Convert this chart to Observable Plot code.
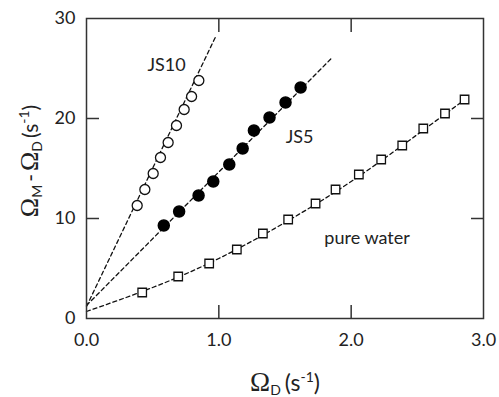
<!DOCTYPE html>
<html><head><meta charset="utf-8">
<script src="https://cdn.jsdelivr.net/npm/d3@7"></script>
<script src="https://cdn.jsdelivr.net/npm/@observablehq/plot@0.6"></script>
<style>body{margin:0;background:#fff;} svg{display:block;}</style>
</head><body><div id="chart"></div>
<script>
// JS10 (open circles)
const js10X = [0.383, 0.441, 0.504, 0.559, 0.617, 0.680, 0.738, 0.794, 0.849];
const js10Y = [11.3, 12.9, 14.5, 16.1, 17.6, 19.3, 20.9, 22.2, 23.8];
// JS5 (filled circles)
const js5X = [0.584, 0.700, 0.847, 0.958, 1.079, 1.180, 1.265, 1.383, 1.504, 1.618];
const js5Y = [9.3, 10.7, 12.3, 13.7, 15.4, 17.0, 18.8, 20.1, 21.6, 23.1];
// pure water (open squares)
const waterX = [0.421, 0.693, 0.927, 1.136, 1.333, 1.524, 1.731, 1.882, 2.058, 2.227, 2.386, 2.545, 2.709, 2.857];
const waterY = [2.6, 4.2, 5.5, 6.9, 8.5, 9.9, 11.5, 12.9, 14.4, 15.9, 17.3, 19.0, 20.5, 21.9];
// dashed fit lines
const js10FitX = [0, 0.98];
const js10FitY = [1.2, 28.3];
const js5FitX = [0, 1.85];
const js5FitY = [1.3, 26.0];
const waterFitX = [0, 0.5, 1.0, 1.5, 2.0, 2.5, 2.86];
const waterFitY = [0.7, 3.1, 6.0, 9.6, 13.7, 18.4, 21.9];
// ticks
const xTicks = [0, 1, 2, 3];
const yTicks = [0, 10, 20, 30];
const xInner = [1, 2];
const yInner = [10, 20];

const zip = (xs, ys) => xs.map((x, i) => ({x, y: ys[i]}));
const js10 = zip(js10X, js10Y), js5 = zip(js5X, js5Y), water = zip(waterX, waterY);
const fit10 = zip(js10FitX, js10FitY), fit5 = zip(js5FitX, js5FitY), fitW = zip(waterFitX, waterFitY);

const FONT = "Lato, 'Open Sans', sans-serif";
const dash = {stroke: "#111", strokeWidth: 1.3, strokeDasharray: "4,3"};
const T = 13;
const inner = {text: null, label: null, tickSize: T, stroke: "#333", strokeWidth: 1.5};

const plot = Plot.plot({
  width: 499, height: 397,
  marginLeft: 86, marginRight: 16, marginTop: 18, marginBottom: 79,
  style: {fontFamily: FONT, color: "#222", background: "#fff"},
  x: {domain: [0, 3]},
  y: {domain: [0, 30]},
  marks: [
    Plot.axisX({ticks: xTicks, tickFormat: d => d.toFixed(1), tickSize: 0, tickPadding: 15, fontSize: 18, label: null}),
    Plot.axisY({ticks: yTicks, tickSize: 0, tickPadding: 11, fontSize: 18, label: null}),
    Plot.axisX({ticks: xInner, anchor: "bottom", dy: -T, ...inner}),
    Plot.axisX({ticks: xInner, anchor: "top", dy: T, ...inner}),
    Plot.axisY({ticks: yInner, anchor: "left", dx: T, ...inner}),
    Plot.axisY({ticks: yInner, anchor: "right", dx: -T, ...inner}),
    Plot.line(fit10, {x: "x", y: "y", ...dash}),
    Plot.line(fit5, {x: "x", y: "y", ...dash}),
    Plot.line(fitW, {x: "x", y: "y", curve: "natural", ...dash}),
    Plot.dot(js10, {x: "x", y: "y", r: 5, stroke: "#111", strokeWidth: 1.3, fill: "#fff"}),
    Plot.dot(js5, {x: "x", y: "y", r: 5.5, fill: "#000", stroke: "#000"}),
    Plot.dot(water, {x: "x", y: "y", symbol: "square", r: 4.8, stroke: "#111", strokeWidth: 1.3, fill: "#fff"}),
    Plot.text(["JS10"], {x: 0.605, y: 25.3, text: d => d, fontSize: 18, fill: "#222"}),
    Plot.text(["JS5"], {x: 1.61, y: 18.1, text: d => d, fontSize: 18, fill: "#222"}),
    Plot.text(["pure water"], {x: 2.12, y: 8.0, text: d => d, fontSize: 18, fill: "#222"}),
    Plot.frame({stroke: "#333", strokeWidth: 1.5})
  ]
});

const svg = d3.select(plot);
const SERIF = "'Liberation Serif', 'DejaVu Serif', serif";
// bottom axis title
const bt = svg.append("text").attr("x", 285).attr("y", 391).attr("text-anchor", "middle")
  .attr("font-family", FONT).attr("font-size", 23).attr("fill", "#222");
bt.append("tspan").attr("font-family", SERIF).attr("font-size", 27).text("Ω");
bt.append("tspan").attr("font-size", 14).attr("dy", 4).text("D");
bt.append("tspan").attr("dy", -4).attr("dx", 4).text("(s");
bt.append("tspan").attr("font-size", 14).attr("dy", -9).text("-1");
bt.append("tspan").attr("dy", 9).text(")");
// left axis title
const lt = svg.append("text").attr("transform", "translate(38,161) rotate(-90)").attr("text-anchor", "middle")
  .attr("font-family", FONT).attr("font-size", 21).attr("fill", "#222");
lt.append("tspan").attr("font-family", SERIF).attr("font-size", 26).text("Ω");
lt.append("tspan").attr("font-size", 14).attr("dy", 4).text("M");
lt.append("tspan").attr("dy", -4).attr("dx", 3).text("-");
lt.append("tspan").attr("font-family", SERIF).attr("font-size", 26).attr("dx", 3).text("Ω");
lt.append("tspan").attr("font-size", 14).attr("dy", 4).text("D");
lt.append("tspan").attr("dy", -4).attr("dx", 3).text("(s");
lt.append("tspan").attr("font-size", 14).attr("dy", -9).text("-1");
lt.append("tspan").attr("dy", 9).text(")");

document.getElementById("chart").appendChild(plot);
</script></body></html>
